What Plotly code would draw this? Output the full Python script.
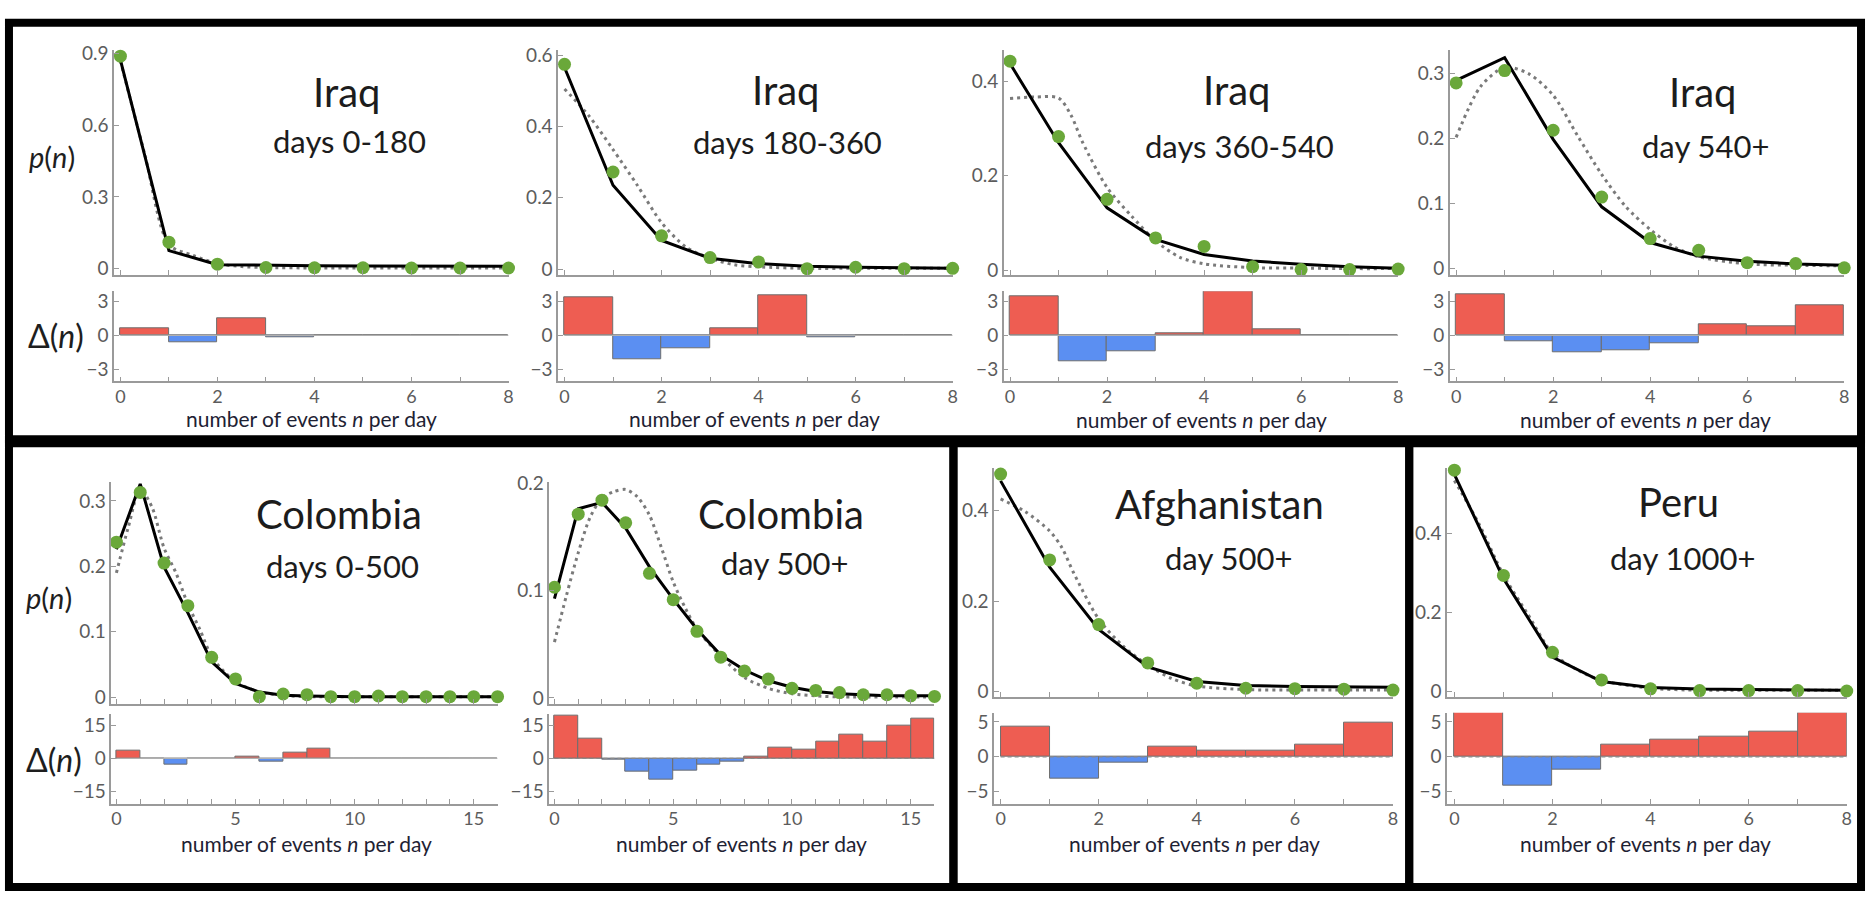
import plotly.graph_objects as go

W, H = 1873, 898

# ---------------- data ----------------
N8 = [0, 1, 2, 3, 4, 5, 6, 7, 8]
N16 = list(range(17))
BINS8 = [0.5, 1.5, 2.5, 3.5, 4.5, 5.5, 6.5, 7.5]
BINS16 = [0.5, 1.5, 2.5, 3.5, 4.5, 5.5, 6.5, 7.5, 8.5, 9.5, 10.5, 11.5, 12.5, 13.5, 14.5, 15.5]
X8_LABELED = [0, 2, 4, 6, 8]
X16_LABELED = [0, 5, 10, 15]

# Iraq days 0-180
iraq1_obs = [0.890, 0.110, 0.018, 0.004, 0.003, 0.003, 0.002, 0.002, 0.002]
iraq1_model = [0.875, 0.075, 0.016, 0.012, 0.011, 0.010, 0.010, 0.009, 0.009]
iraq1_alt_x = [0, 0.5, 1, 1.5, 2, 2.5, 3, 4, 5, 6, 7, 8]
iraq1_alt = [0.870, 0.480, 0.100, 0.055, 0.020, 0.008, 0.004, 0.002, 0.002, 0.002, 0.002, 0.002]
iraq1_delta = [0.6, -0.6, 1.5, -0.15, 0, 0, 0, 0]
iraq1_yticks = [0, 0.3, 0.6, 0.9]

# Iraq days 180-360
iraq2_obs = [0.574, 0.272, 0.093, 0.032, 0.020, 0.001, 0.005, 0.001, 0.002]
iraq2_model = [0.565, 0.235, 0.080, 0.030, 0.015, 0.008, 0.005, 0.003, 0.002]
iraq2_alt_x = [0, 0.5, 1, 1.5, 2, 2.5, 3, 3.5, 4, 5, 6, 7, 8]
iraq2_alt = [0.505, 0.430, 0.335, 0.235, 0.130, 0.062, 0.030, 0.012, 0.006, 0.002, 0.002, 0.002, 0.002]
iraq2_delta = [3.4, -2.1, -1.15, 0.6, 3.55, -0.2, 0, 0]
iraq2_yticks = [0, 0.2, 0.4, 0.6]

# Iraq days 360-540
iraq3_obs = [0.443, 0.283, 0.150, 0.068, 0.050, 0.007, 0.001, 0.001, 0.002]
iraq3_model = [0.438, 0.270, 0.132, 0.065, 0.033, 0.019, 0.012, 0.007, 0.004]
iraq3_alt_x = [0, 0.5, 1, 1.25, 1.5, 2, 2.5, 3, 3.5, 4, 5, 6, 7, 8]
iraq3_alt = [0.364, 0.367, 0.365, 0.330, 0.270, 0.175, 0.115, 0.062, 0.027, 0.013, 0.005, 0.004, 0.003, 0.003]
iraq3_delta = [3.5, -2.3, -1.4, 0.15, 3.9, 0.55, 0, 0]
iraq3_yticks = [0, 0.2, 0.4]

# Iraq day 540+
iraq4_obs = [0.286, 0.305, 0.213, 0.110, 0.046, 0.028, 0.009, 0.0075, 0.001]
iraq4_model = [0.290, 0.325, 0.199, 0.095, 0.040, 0.019, 0.011, 0.007, 0.005]
iraq4_alt_x = [0, 0.5, 1, 1.5, 2, 2.5, 3, 3.5, 4, 4.5, 5, 6, 7, 8]
iraq4_alt = [0.202, 0.280, 0.310, 0.300, 0.267, 0.205, 0.145, 0.095, 0.060, 0.033, 0.018, 0.007, 0.005, 0.004]
iraq4_delta = [3.65, -0.53, -1.5, -1.32, -0.73, 0.94, 0.8, 2.7]
iraq4_yticks = [0, 0.1, 0.2, 0.3]

# Colombia days 0-500
col1_obs = [0.237, 0.313, 0.205, 0.140, 0.061, 0.028, 0.001, 0.005, 0.004, 0.001, 0.001,
            0.002, 0.001, 0.001, 0.001, 0.001, 0.001]
col1_model = [0.226, 0.326, 0.199, 0.129, 0.054, 0.021, 0.008, 0.003, 0.002, 0.001, 0.001,
              0.001, 0.001, 0.001, 0.001, 0.001, 0.001]
col1_alt_x = [0, 0.5, 1, 1.5, 2, 2.5, 3, 3.5, 4, 4.5, 5, 6, 7, 8, 10, 12, 14, 16]
col1_alt = [0.190, 0.260, 0.318, 0.290, 0.228, 0.190, 0.142, 0.104, 0.062, 0.040, 0.024,
            0.008, 0.003, 0.001, 0.001, 0.001, 0.001, 0.001]
col1_delta = [3.3, 0, -2.7, -0.3, 0, 1.0, -1.5, 2.5, 4.5, 0, 0, 0, 0, 0, 0, 0]
col1_yticks = [0, 0.1, 0.2, 0.3]

# Colombia day 500+
col2_obs = [0.103, 0.171, 0.184, 0.163, 0.116, 0.0915, 0.062, 0.038, 0.025, 0.0176, 0.009,
            0.007, 0.005, 0.003, 0.003, 0.002, 0.0015]
col2_model = [0.0925, 0.176, 0.182, 0.158, 0.122, 0.092, 0.064, 0.040, 0.026, 0.016, 0.010,
              0.006, 0.004, 0.003, 0.002, 0.002, 0.002]
col2_alt_x = [0, 0.5, 1, 1.5, 2, 2.5, 3, 3.5, 4, 4.5, 5, 5.5, 6, 7, 8, 9, 10, 11, 12, 14, 16]
col2_alt = [0.052, 0.095, 0.135, 0.168, 0.186, 0.192, 0.194, 0.187, 0.170, 0.140, 0.108,
            0.084, 0.064, 0.039, 0.019, 0.009, 0.004, 0.002, 0.001, 0.001, 0.001]
col2_delta = [19.6, 8.8, -0.7, -5.9, -9.5, -5.4, -2.9, -1.5, 1.0, 4.7, 4.0, 7.4, 10.8, 7.4, 15.0, 18.0]
col2_yticks = [0, 0.1, 0.2]

# Afghanistan day 500+
afg_obs = [0.481, 0.291, 0.148, 0.063, 0.018, 0.007, 0.006, 0.005, 0.003]
afg_model = [0.466, 0.275, 0.137, 0.054, 0.022, 0.013, 0.011, 0.010, 0.009]
afg_alt_x = [0, 0.5, 1, 1.25, 1.5, 2, 2.5, 3, 3.5, 4, 5, 6, 7, 8]
afg_alt = [0.426, 0.398, 0.355, 0.318, 0.260, 0.160, 0.100, 0.058, 0.028, 0.012, 0.004, 0.003, 0.003, 0.003]
afg_delta = [4.3, -3.2, -0.85, 1.5, 0.85, 0.95, 1.8, 4.9]
afg_yticks = [0, 0.2, 0.4]

# Peru day 1000+
peru_obs = [0.561, 0.294, 0.099, 0.029, 0.0065, 0.002, 0.002, 0.002, 0.001]
peru_model = [0.550, 0.286, 0.087, 0.025, 0.010, 0.006, 0.005, 0.004, 0.003]
peru_alt_x = [0, 0.5, 1, 1.5, 2, 2.5, 3, 4, 5, 6, 7, 8]
peru_alt = [0.535, 0.425, 0.295, 0.195, 0.097, 0.055, 0.028, 0.008, 0.003, 0.003, 0.003, 0.003]
peru_delta = [6.5, -4.2, -1.9, 1.8, 2.5, 2.86, 3.6, 6.3]
peru_yticks = [0, 0.2, 0.4]

DELTA_TICKS_TOP = [-3, 0, 3]
DELTA_TICKS_COL = [-15, 0, 15]
DELTA_TICKS_BOT = [-5, 0, 5]

titles = ["Iraq", "Iraq", "Iraq", "Iraq", "Colombia", "Colombia", "Afghanistan", "Peru"]
subtitles = ["days 0-180", "days 180-360", "days 360-540", "day 540+",
             "days 0-500", "day 500+", "day 500+", "day 1000+"]

# ---------------- layout specs (pixel geometry) ----------------
panels = [
    dict(obs=iraq1_obs, model=iraq1_model, ax=iraq1_alt_x, alt=iraq1_alt, delta=iraq1_delta,
         n=N8, bins=BINS8, xlab=X8_LABELED, yt=iraq1_yticks, dt=DELTA_TICKS_TOP,
         xd=(114.4, 509.9), xr=(-0.13, 8), td=(39, 268), tr=(-0.0259, 0.9151),
         dd=(285, 377), dr=(-4.09, 3.91), dash=False,
         tpos=(347, 82), spos=(350, 132), lpos=(312, 415)),
    dict(obs=iraq2_obs, model=iraq2_model, ax=iraq2_alt_x, alt=iraq2_alt, delta=iraq2_delta,
         n=N8, bins=BINS8, xlab=X8_LABELED, yt=iraq2_yticks, dt=DELTA_TICKS_TOP,
         xd=(559.7, 955.2), xr=(-0.13, 8), td=(39, 268), tr=(-0.0157, 0.6135),
         dd=(285, 377), dr=(-4.09, 3.91), dash=False,
         tpos=(788, 80), spos=(790, 133), lpos=(757, 415)),
    dict(obs=iraq3_obs, model=iraq3_model, ax=iraq3_alt_x, alt=iraq3_alt, delta=iraq3_delta,
         n=N8, bins=BINS8, xlab=X8_LABELED, yt=iraq3_yticks, dt=DELTA_TICKS_TOP,
         xd=(1006.4, 1401.9), xr=(-0.13, 8), td=(39, 268), tr=(-0.0098, 0.4663),
         dd=(285, 377), dr=(-4.09, 3.91), dash=False,
         tpos=(1240, 80), spos=(1243, 137), lpos=(1205, 416)),
    dict(obs=iraq4_obs, model=iraq4_model, ax=iraq4_alt_x, alt=iraq4_alt, delta=iraq4_delta,
         n=N8, bins=BINS8, xlab=X8_LABELED, yt=iraq4_yticks, dt=DELTA_TICKS_TOP,
         xd=(1453.7, 1849.2), xr=(-0.13, 8), td=(39, 268), tr=(-0.0095, 0.3364),
         dd=(285, 377), dr=(-4.09, 3.91), dash=False,
         tpos=(1707, 82), spos=(1710, 137), lpos=(1650, 416)),
    dict(obs=col1_obs, model=col1_model, ax=col1_alt_x, alt=col1_alt, delta=col1_delta,
         n=N16, bins=BINS16, xlab=X16_LABELED, yt=col1_yticks, dt=DELTA_TICKS_COL,
         xd=(111.7, 498.9), xr=(-0.21, 16), td=(480, 706), tr=(-0.010, 0.3283),
         dd=(716, 808), dr=(-20.6, 20.3), dash=False,
         tpos=(340, 512), spos=(343, 565), lpos=(307, 848)),
    dict(obs=col2_obs, model=col2_model, ax=col2_alt_x, alt=col2_alt, delta=col2_delta,
         n=N16, bins=BINS16, xlab=X16_LABELED, yt=col2_yticks, dt=DELTA_TICKS_COL,
         xd=(550.7, 937.0), xr=(-0.22, 16), td=(480, 706), tr=(-0.00545, 0.2006),
         dd=(716, 808), dr=(-20.6, 20.3), dash=True,
         tpos=(783, 512), spos=(787, 562), lpos=(743, 848)),
    dict(obs=afg_obs, model=afg_model, ax=afg_alt_x, alt=afg_alt, delta=afg_delta,
         n=N8, bins=BINS8, xlab=X8_LABELED, yt=afg_yticks, dt=DELTA_TICKS_BOT,
         xd=(996.7, 1396.7), xr=(-0.134, 8), td=(465, 699), tr=(-0.0124, 0.4952),
         dd=(715, 808), dr=(-6.76, 6.34), dash=True,
         tpos=(1223, 502), spos=(1232, 557), lpos=(1198, 849)),
    dict(obs=peru_obs, model=peru_model, ax=peru_alt_x, alt=peru_alt, delta=peru_delta,
         n=N8, bins=BINS8, xlab=X8_LABELED, yt=peru_yticks, dt=DELTA_TICKS_BOT,
         xd=(1451.0, 1851.7), xr=(-0.148, 8), td=(465, 699), tr=(-0.0142, 0.5672),
         dd=(715, 808), dr=(-6.76, 6.34), dash=True,
         tpos=(1683, 500), spos=(1687, 557), lpos=(1650, 848)),
]

GREEN = "#6aa83a"
RED = "#ee5d52"
BLUE = "#5b8ff2"
AXIS_COL = "#9a9a9a"
TICK_FONT = dict(family="Lato, Open Sans, sans-serif", size=19, color="#5c5c5c")
XTICK_FONT = dict(family="Lato, Open Sans, sans-serif", size=18, color="#5c5c5c")
TEXT_FAMILY = "Lato, Open Sans, sans-serif"


def px_x(p):
    return p / W


def px_y(p):
    return 1 - p / H


fig = go.Figure()
layout = dict(width=W, height=H, autosize=False, margin=dict(l=0, r=0, t=0, b=0),
              paper_bgcolor="white", plot_bgcolor="white", showlegend=False,
              bargap=0, annotations=[], shapes=[])

for i, p in enumerate(panels):
    kt = 2 * i + 1
    kd = 2 * i + 2
    xt, yt_, xd_, yd_ = f"x{kt}", f"y{kt}", f"x{kd}", f"y{kd}"
    # main distribution plot
    fig.add_trace(go.Scatter(x=p["ax"], y=p["alt"], mode="lines", xaxis=xt, yaxis=yt_,
                             line=dict(color="#7a7a7a", width=3, dash="3px,4px",
                                       shape="spline", smoothing=0.8),
                             cliponaxis=False, hoverinfo="skip"))
    fig.add_trace(go.Scatter(x=p["n"], y=p["model"], mode="lines", xaxis=xt, yaxis=yt_,
                             line=dict(color="black", width=3), cliponaxis=False))
    fig.add_trace(go.Scatter(x=p["n"], y=p["obs"], mode="markers", xaxis=xt, yaxis=yt_,
                             marker=dict(color=GREEN, size=13), cliponaxis=False))
    # delta bars
    cols = [RED if v >= 0 else BLUE for v in p["delta"]]
    fig.add_trace(go.Bar(x=p["bins"], y=p["delta"], width=1, xaxis=xd_, yaxis=yd_,
                         marker=dict(color=cols, line=dict(color="#6e6e6e", width=1))))

    xdom = [px_x(p["xd"][0]), px_x(p["xd"][1])]
    minor = dict(tickvals=p["n"], ticks="inside", ticklen=5, tickcolor=AXIS_COL, showgrid=False)
    common_x = dict(domain=xdom, range=list(p["xr"]), showline=True, linecolor=AXIS_COL,
                    linewidth=1.5, ticks="inside", ticklen=5, tickcolor=AXIS_COL,
                    tickvals=p["xlab"], minor=minor, showgrid=False, zeroline=False,
                    tickfont=XTICK_FONT)
    layout[f"xaxis{kt}"] = dict(common_x, anchor=yt_, showticklabels=False)
    layout[f"xaxis{kd}"] = dict(common_x, anchor=yd_, ticklabelstandoff=-2)
    common_y = dict(showline=True, linecolor=AXIS_COL, linewidth=1.5, ticks="inside",
                    ticklen=5, tickcolor=AXIS_COL, showgrid=False, zeroline=False,
                    tickfont=TICK_FONT)
    layout[f"yaxis{kt}"] = dict(common_y, anchor=xt,
                                domain=[px_y(p["td"][1]), px_y(p["td"][0])],
                                range=list(p["tr"]), tickvals=p["yt"])
    layout[f"yaxis{kd}"] = dict(common_y, anchor=xd_,
                                domain=[px_y(p["dd"][1]), px_y(p["dd"][0])],
                                range=list(p["dr"]), tickvals=p["dt"])
    # zero baseline of delta plot
    layout["shapes"].append(dict(type="line", xref=xd_, yref=yd_, x0=0, x1=p["n"][-1],
                                 y0=0, y1=0, layer="above",
                                 line=dict(color="#8a8a8a" if p["dash"] else "#b0b0b0",
                                           width=1.3, dash="4px,3px" if p["dash"] else "solid")))
    # texts
    layout["annotations"].append(dict(text=titles[i], x=px_x(p["tpos"][0]), y=px_y(p["tpos"][1]),
                                      xref="paper", yref="paper", showarrow=False,
                                      xanchor="center", yanchor="middle",
                                      font=dict(family=TEXT_FAMILY, size=40, color="#1c1c1c")))
    layout["annotations"].append(dict(text=subtitles[i], x=px_x(p["spos"][0]), y=px_y(p["spos"][1]),
                                      xref="paper", yref="paper", showarrow=False,
                                      xanchor="center", yanchor="middle",
                                      font=dict(family=TEXT_FAMILY, size=31, color="#1c1c1c")))
    layout["annotations"].append(dict(text="number of events <i>n</i> per day",
                                      x=px_x(p["lpos"][0]), y=px_y(p["lpos"][1]),
                                      xref="paper", yref="paper", showarrow=False,
                                      xanchor="center", yanchor="middle",
                                      font=dict(family=TEXT_FAMILY, size=21, color="#1e2233")))

# axis labels p(n) and Delta(n)
for (lx, ly, txt, sz) in [(52, 147, "<i>p</i>(<i>n</i>)", 29), (56, 330, "Δ(<i>n</i>)", 32),
                          (49, 597, "<i>p</i>(<i>n</i>)", 29), (54, 763, "Δ(<i>n</i>)", 32)]:
    layout["annotations"].append(dict(text=txt, x=px_x(lx), y=px_y(ly), xref="paper", yref="paper",
                                      showarrow=False, xanchor="center", yanchor="middle",
                                      font=dict(family=TEXT_FAMILY, size=sz, color="#1e1e1e")))

# black frames
for (x0, y0, x1, y1) in [(9, 11, 1866, 436), (9, 440, 956, 893), (956, 440, 1413, 893),
                         (1413, 440, 1866, 893)]:
    layout["shapes"].append(dict(type="rect", xref="paper", yref="paper",
                                 x0=px_x(x0), x1=px_x(x1), y0=px_y(y1), y1=px_y(y0),
                                 line=dict(color="black", width=8), layer="above"))

fig.update_layout(**layout)
fig.write_html("out.html")
